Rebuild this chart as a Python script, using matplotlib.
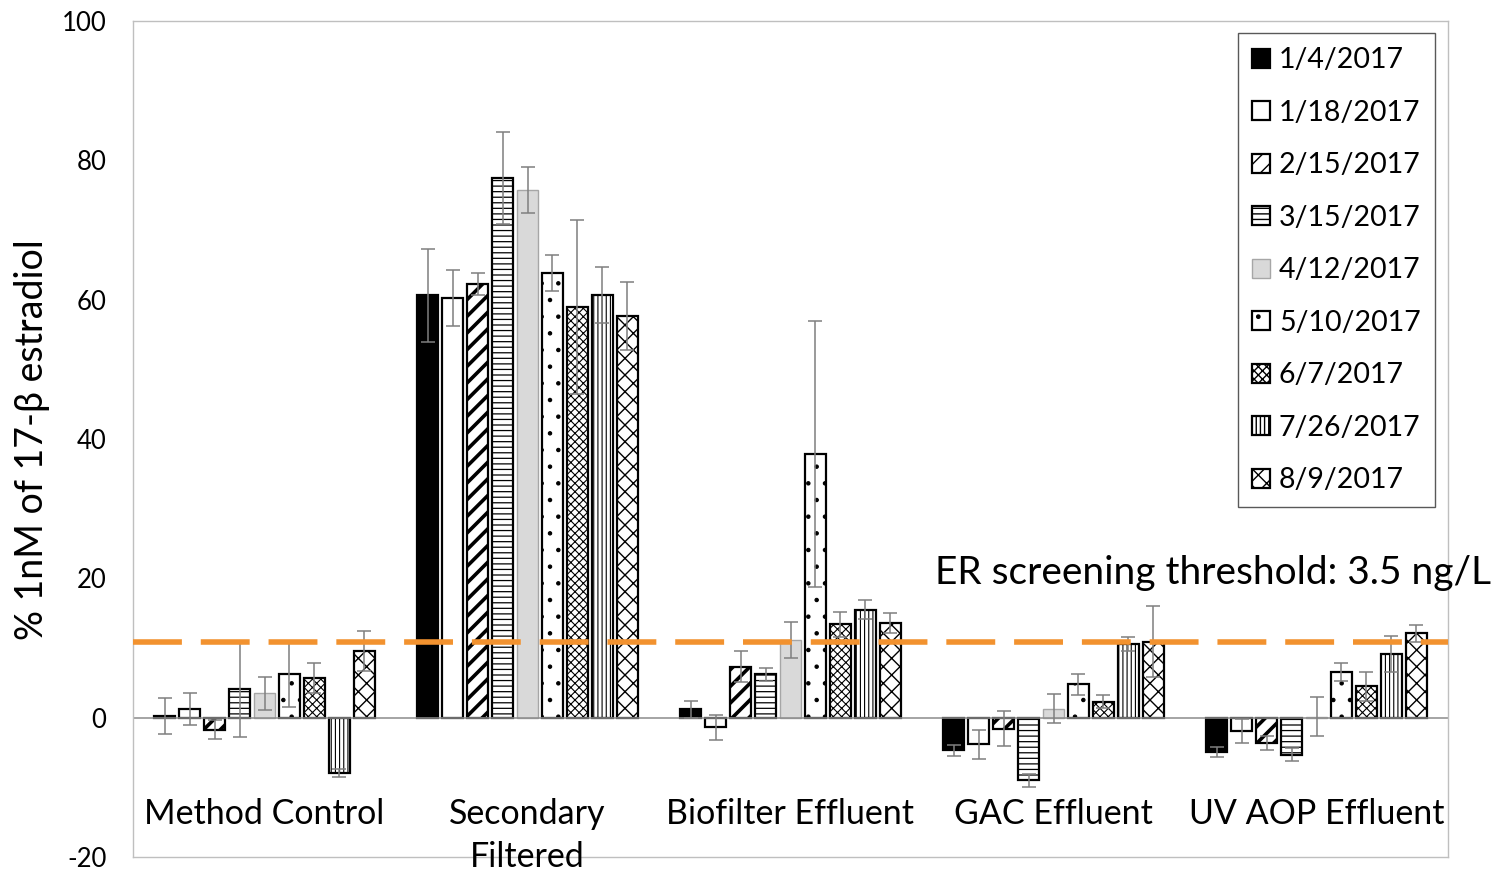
import matplotlib
matplotlib.use("Agg")
import matplotlib.pyplot as plt
import numpy as np

plt.rcParams['font.family'] = ['Lato', 'DejaVu Sans']
plt.rcParams['axes.unicode_minus'] = False

categories = ["Method Control", "Secondary\nFiltered", "Biofilter Effluent",
              "GAC Effluent", "UV AOP Effluent"]
dates = ["1/4/2017", "1/18/2017", "2/15/2017", "3/15/2017", "4/12/2017",
         "5/10/2017", "6/7/2017", "7/26/2017", "8/9/2017"]

# one list per category, one value per sampling date
method_control = [0.2, 1.3, -1.7, 4.1, 3.5, 6.3, 5.7, -7.9, 9.6]
method_control_err = [2.6, 2.3, 1.4, 6.9, 2.4, 4.7, 2.1, 0.6, 2.9]
secondary = [60.6, 60.2, 62.2, 77.4, 75.8, 63.8, 59.0, 60.7, 57.7]
secondary_err = [6.7, 4.0, 1.6, 6.6, 3.3, 2.6, 12.5, 4.0, 4.9]
biofilter = [1.2, -1.4, 7.3, 6.2, 11.1, 37.9, 13.4, 15.5, 13.6]
biofilter_err = [1.2, 1.8, 2.2, 0.9, 2.6, 19.1, 1.8, 1.4, 1.4]
gac = [-4.7, -3.8, -1.6, -9.0, 1.3, 4.8, 2.3, 10.6, 10.9]
gac_err = [0.8, 2.1, 2.5, 0.9, 2.1, 1.5, 0.9, 1.0, 5.1]
uv_aop = [-4.9, -1.9, -3.6, -5.3, 0.1, 6.6, 4.5, 9.1, 12.1]
uv_aop_err = [0.7, 1.7, 1.0, 0.9, 2.8, 1.3, 2.1, 2.6, 1.2]

threshold = 10.9
threshold_label = "ER screening threshold: 3.5 ng/L"
yticks = [-20, 0, 20, 40, 60, 80, 100]

values = np.array([method_control, secondary, biofilter, gac, uv_aop]).T
errors = np.array([method_control_err, secondary_err, biofilter_err, gac_err, uv_aop_err]).T

# (facecolor, edgecolor, hatch, hatch linewidth)
styles = [
    ("black", "black", None, 1.0),
    ("white", "black", None, 1.0),
    ("white", "black", "//", 2.6),
    ("white", "black", "---", 0.9),
    ("#d9d9d9", "#a6a6a6", None, 1.0),
    ("white", "black", ".", 0.8),
    ("white", "black", "xxxx", 0.8),
    ("white", "black", "||||", 0.8),
    ("white", "black", "xx", 1.0),
]

fig = plt.figure(figsize=(14.99, 8.71), dpi=100)
ax = fig.add_axes([133 / 1499, 14 / 871, 1315 / 1499, 836 / 871])

x = np.arange(len(categories))
step, width = 0.095, 0.077
handles = []
for i, (fc, ec, hatch, hlw) in enumerate(styles):
    pos = x + (i - 4) * step
    with plt.rc_context({'hatch.linewidth': hlw}):
        bars = ax.bar(pos, values[i], width, color=fc, edgecolor=ec,
                      linewidth=1.6 if ec == "black" else 1.0, hatch=hatch,
                      label=dates[i], zorder=2)
    for b in bars:
        if hasattr(b, "set_hatch_linewidth"):
            b.set_hatch_linewidth(hlw)
    ax.errorbar(pos, values[i], yerr=errors[i], fmt="none", ecolor="#7f7f7f",
                elinewidth=1.1, capsize=5, capthick=1.1, zorder=3)
    handles.append(bars)

ax.axhline(0, color="#8c8c8c", lw=1.1, zorder=2.5)
ax.axhline(threshold, color="#F2922F", lw=4, dashes=(8.8, 3.4), zorder=4)
ax.text(0.61, 20.8, threshold_label, transform=ax.get_yaxis_transform(),
        fontsize=28, va="center", ha="left", clip_on=False)

ax.set_xlim(-0.5, 4.5)
ax.set_ylim(-20, 100)
ax.set_yticks(yticks)
ax.set_xticks([])
ax.tick_params(axis="y", length=0, pad=19, labelsize=18.5)
for s in ax.spines.values():
    s.set_color("#bfbfbf")
    s.set_linewidth(1.0)

for i, lab in enumerate(categories):
    ax.text(x[i], -11.6, lab, ha="center", va="top", fontsize=24.5,
            linespacing=1.42)

fig.text(32 / 1499, 0.495, "% 1nM of 17-\u03b2 estradiol", rotation=90,
         ha="center", va="center", fontsize=27)

leg = ax.legend(handles=handles, loc="upper right", bbox_to_anchor=(0.990, 0.9856),
                borderaxespad=0, fontsize=20.5, handlelength=0.65, handleheight=0.65,
                handletextpad=0.3, labelspacing=0.93, fancybox=False,
                edgecolor="#595959", framealpha=1, borderpad=0.5)
leg.get_frame().set_linewidth(1.0)

fig.savefig("out.png", dpi=100)
